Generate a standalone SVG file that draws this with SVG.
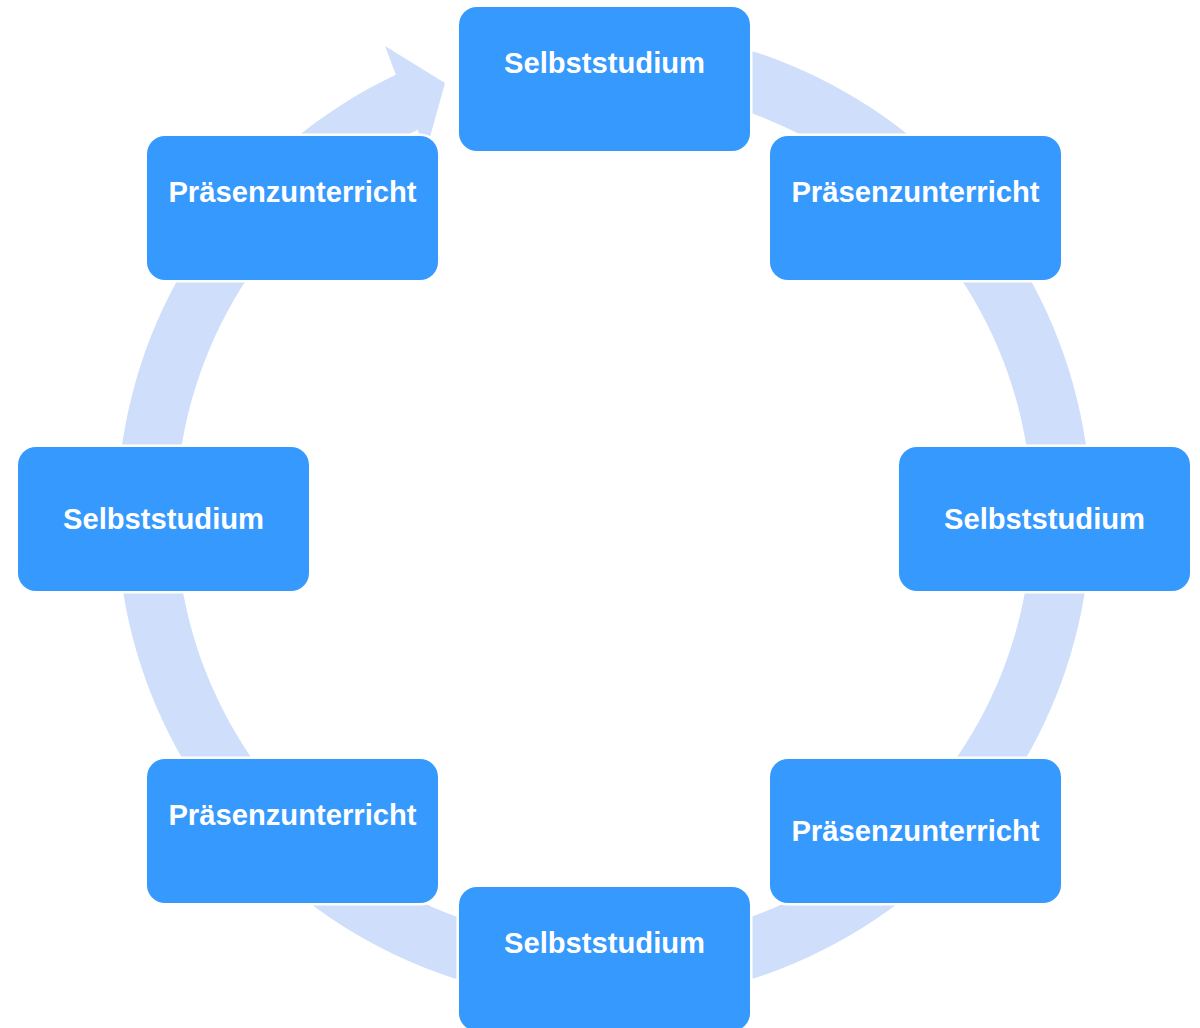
<svg xmlns="http://www.w3.org/2000/svg" width="1200" height="1028" viewBox="0 0 1200 1028">
<style>
.box{fill:#3599fe;stroke:#ffffff;stroke-width:5;paint-order:stroke}
.lbl{font-family:"Liberation Sans",Arial,sans-serif;font-weight:bold;font-size:29.2px;fill:#ffffff;text-anchor:middle}
.ring{fill:#cfdffb}
</style>
<rect width="1200" height="1028" fill="#ffffff"/>
<g id="connectors">
<path class="ring" d="M 519.43 35.40 A 487 487 0 1 1 395.88 74.71 L 385 46 L 445 83 L 425 155 L 417.72 129.66 A 428 428 0 1 0 529.68 93.50 Z"/>
</g>
<g id="node1"><rect class="box" x="459" y="7" width="291" height="144" rx="18"/><text class="lbl" x="604.5" y="73">Selbststudium</text></g>
<g id="node2"><rect class="box" x="770" y="136" width="291" height="144" rx="18"/><text class="lbl" x="915.5" y="202">Präsenzunterricht</text></g>
<g id="node3"><rect class="box" x="899" y="447" width="291" height="144" rx="18"/><text class="lbl" x="1044.5" y="529">Selbststudium</text></g>
<g id="node4"><rect class="box" x="770" y="759" width="291" height="144" rx="18"/><text class="lbl" x="915.5" y="841">Präsenzunterricht</text></g>
<g id="node5"><rect class="box" x="459" y="887" width="291" height="144" rx="18"/><text class="lbl" x="604.5" y="953">Selbststudium</text></g>
<g id="node6"><rect class="box" x="147" y="759" width="291" height="144" rx="18"/><text class="lbl" x="292.5" y="825">Präsenzunterricht</text></g>
<g id="node7"><rect class="box" x="18" y="447" width="291" height="144" rx="18"/><text class="lbl" x="163.5" y="529">Selbststudium</text></g>
<g id="node8"><rect class="box" x="147" y="136" width="291" height="144" rx="18"/><text class="lbl" x="292.5" y="202">Präsenzunterricht</text></g>
</svg>
